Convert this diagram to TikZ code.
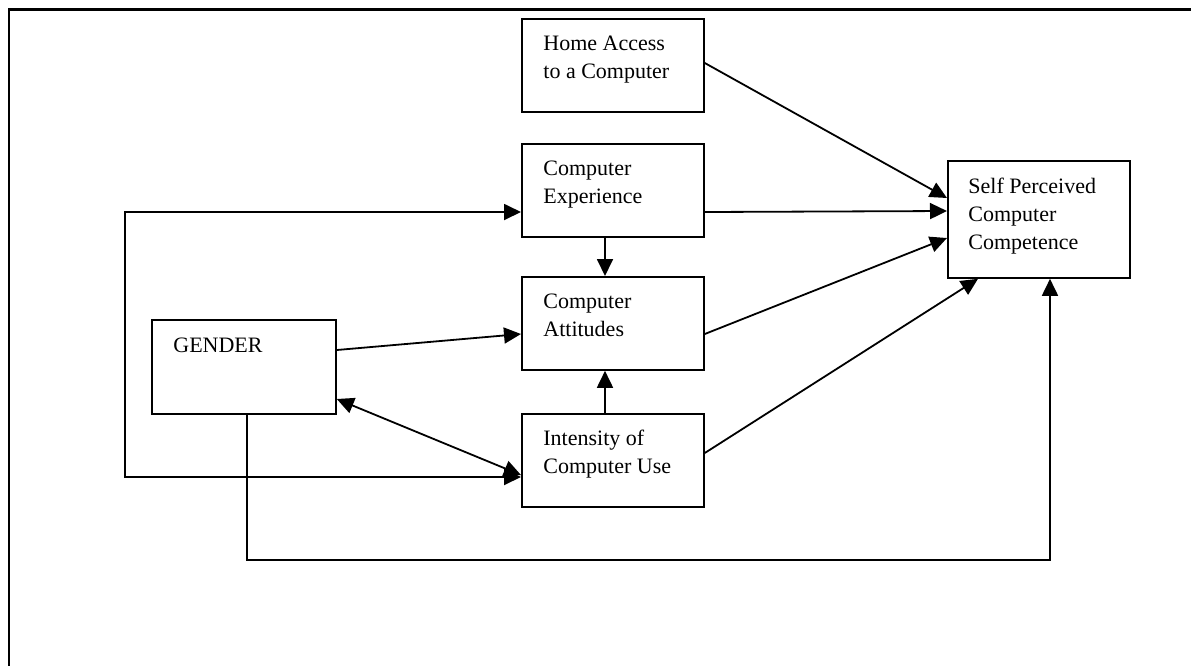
\documentclass[tikz,border=0pt]{standalone}
\usepackage{fontspec}
\setmainfont{Liberation Serif}
\usetikzlibrary{arrows.meta,calc}

\tikzset{
  box/.style={draw, line width=0.9pt, inner sep=0pt, anchor=north west,
              minimum width=91pt, minimum height=46.5pt},
  label/.style={anchor=base west, inner sep=0pt},
  tip/.style={},
  link/.style={line width=0.9pt, -{Triangle[length=8.5pt,width=8pt]}},
  both/.style={line width=0.9pt, {Triangle[length=8.5pt,width=8pt]}-{Triangle[length=8.5pt,width=8pt]}},
  frame/.style={line width=1.3pt}
}
\newcommand{\boxtext}[1]{\parbox[t]{80pt}{\raggedright\fontsize{11}{14.2}\selectfont #1}}

\begin{document}
\begin{tikzpicture}[x=0.5pt,y=-0.5pt]
  \useasboundingbox (0,0) rectangle (1191,666);

  % page frame (top and left edges)
  \draw[frame] (1191,9.5) -- (9,9.5) -- (9,666);

  % boxes
  \node[box] (home) at (521,18) {};
  \node[box] (exp) at (521,143) {};
  \node[box] (att) at (521,276) {};
  \node[box] (int) at (521,413) {};
  \node[box, minimum width=92pt, minimum height=47pt] (gender) at (151,319) {};
  \node[box, minimum height=58.5pt] (self) at (947,160) {};

  % box texts
  \node[label] (homet) at ($(home.north west)+(22,32.5)$) {\boxtext{Home Access\\to a Computer}};
  \node[label] (expt) at ($(exp.north west)+(22,32.5)$) {\boxtext{Computer\\Experience}};
  \node[label] (attt) at ($(att.north west)+(22,32.5)$) {\boxtext{Computer\\Attitudes}};
  \node[label] (intt) at ($(int.north west)+(22,32)$) {\boxtext{Intensity of\\Computer Use}};
  \node[label] (gendert) at ($(gender.north west)+(22,33)$) {\boxtext{GENDER}};
  \node[label] (selft) at ($(self.north west)+(21,33)$) {\boxtext{Self Perceived\\Computer\\Competence}};

  % direct paths to self perceived competence
  \draw[link] ($(home.north east)+(0,45)$) -- ($(self.north west)+(0,38)$);
  \draw[link] ($(exp.north east)+(0,69)$) -- ($(self.north west)+(0,51)$);
  \draw[link] ($(att.north east)+(0,58)$) -- ($(self.north west)+(0,78)$);
  \draw[link] ($(int.north east)+(0,40)$) -- ($(self.south west)+(31,0)$);

  % paths into attitudes
  \draw[link] ($(exp.south west)+(84,0)$) -- ($(att.north west)+(84,0)$);
  \draw[link] ($(int.north west)+(84,0)$) -- ($(att.south west)+(84,0)$);
  \draw[link] ($(gender.north east)+(0,31)$) -- ($(att.north west)+(0,58)$);

  % gender and intensity of use
  \draw[both] ($(gender.north east)+(0,80)$) -- ($(int.north west)+(0,62)$);

  % loop linking intensity of use and experience
  \coordinate (loopB) at (125,477);
  \coordinate (loopT) at (125,212);
  \draw[both] ($(int.north west)+(0,64)$) -- (loopB) -- (loopT) -- ($(exp.north west)+(0,69)$);

  % gender to self perceived competence
  \coordinate (gdown) at (247,560);
  \coordinate (gright) at (1050,560);
  \draw[link] ($(gender.south west)+(96,0)$) -- (gdown) -- (gright) -- ($(self.south west)+(103,0)$);
\end{tikzpicture}
\end{document}
